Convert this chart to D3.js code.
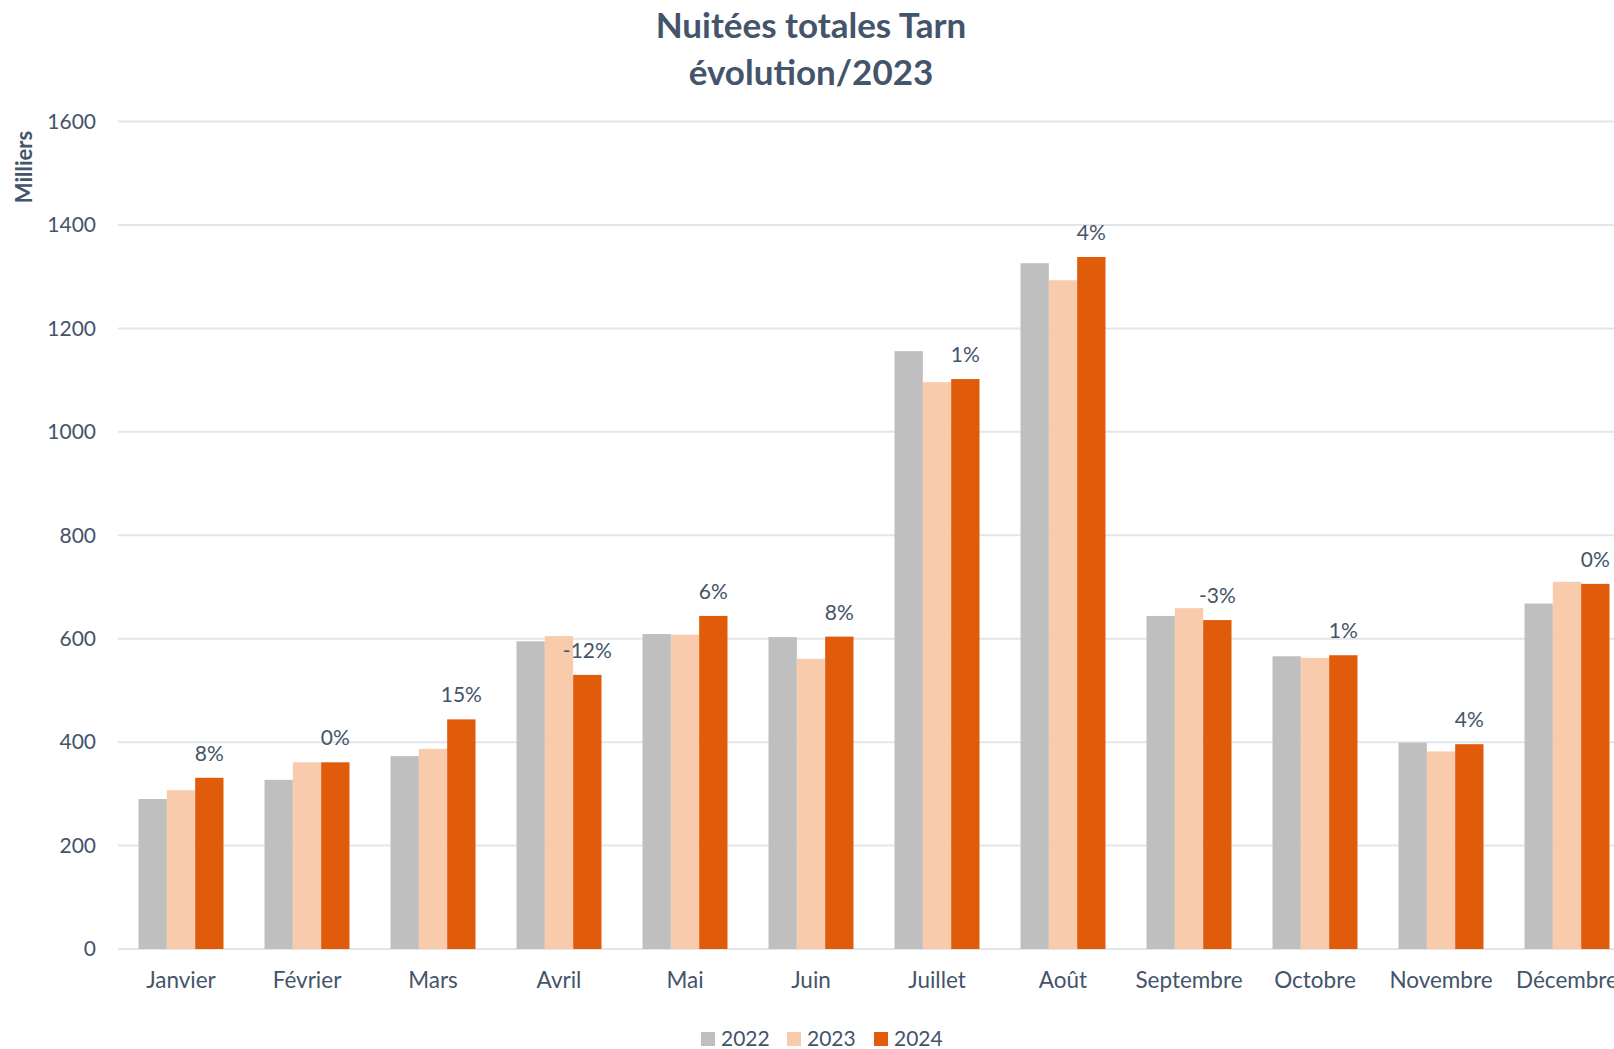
<!DOCTYPE html>
<html>
<head>
<meta charset="utf-8">
<script src="https://cdn.jsdelivr.net/npm/d3@7"></script>
<style>
  body { margin: 0; background: #fff; }
  svg { display: block; font-family: Lato, "Noto Sans", sans-serif; }
</style>
</head>
<body>
<svg></svg>
<script>
var width = 1614,
    height = 1049;

// data
var months = ["Janvier", "Février", "Mars", "Avril", "Mai", "Juin", "Juillet", "Août", "Septembre", "Octobre", "Novembre", "Décembre"];
var years = ["2022", "2023", "2024"];
var v2022 = [290, 327, 373, 595, 609, 603, 1156, 1326, 644, 566, 399, 668];
var v2023 = [307, 361, 387, 605, 608, 561, 1096, 1293, 659, 563, 382, 710];
var v2024 = [331, 361, 444, 530, 644, 604, 1102, 1338, 636, 568, 396, 706];
var evolution = ["8%", "0%", "15%", "-12%", "6%", "8%", "1%", "4%", "-3%", "1%", "4%", "0%"];
var yTicks = [0, 200, 400, 600, 800, 1000, 1200, 1400, 1600];

var colors = ["#BFBFBF", "#F8CBAD", "#E05C0B"];
var textColor = "#44546A";

var margin = {left: 118, top: 121.5, bottom: 100};
var plotRight = 1630; // plot runs past the picture edge, as in the original
var baseY = 949;

var svg = d3.select("svg")
    .attr("width", width)
    .attr("height", height);

var x = d3.scaleBand()
    .domain(months)
    .range([margin.left, plotRight]);

var xInner = d3.scaleBand()
    .domain(years)
    .range([0, 85]);

var y = d3.scaleLinear()
    .domain([0, 1600])
    .range([baseY, margin.top]);

// gridlines
svg.append("g")
    .selectAll("line")
    .data(yTicks)
    .enter().append("line")
    .attr("x1", margin.left)
    .attr("x2", plotRight)
    .attr("y1", function (d) { return y(d); })
    .attr("y2", function (d) { return y(d); })
    .style("stroke", "#E2E5EA")
    .style("stroke-width", "2px");

// y tick labels
svg.append("g")
    .selectAll("text")
    .data(yTicks)
    .enter().append("text")
    .attr("x", 96)
    .attr("y", function (d) { return y(d); })
    .attr("dy", "0.35em")
    .attr("text-anchor", "end")
    .style("font-size", "21px")
    .style("fill", textColor)
    .text(function (d) { return d; });

// bars
var series = [v2022, v2023, v2024];
var rows = [];
months.forEach(function (m, i) {
    years.forEach(function (yr, j) {
        rows.push({month: m, year: yr, value: series[j][i], k: j});
    });
});

var groupOffset = (x.bandwidth() - 85) / 2;

svg.append("g")
    .selectAll("rect")
    .data(rows)
    .enter().append("rect")
    .attr("x", function (d) { return x(d.month) + groupOffset + xInner(d.year); })
    .attr("y", function (d) { return y(d.value); })
    .attr("width", xInner.bandwidth())
    .attr("height", function (d) { return baseY - y(d.value); })
    .style("fill", function (d) { return colors[d.k]; });

// evolution labels above 2024 bar
svg.append("g")
    .selectAll("text")
    .data(months)
    .enter().append("text")
    .attr("x", function (d) { return x(d) + groupOffset + xInner("2024") + xInner.bandwidth() / 2; })
    .attr("y", function (d, i) { return y(v2024[i]) - 17; })
    .attr("text-anchor", "middle")
    .style("font-size", "21px")
    .style("fill", textColor)
    .text(function (d, i) { return evolution[i]; });

// x labels
svg.append("g")
    .selectAll("text")
    .data(months)
    .enter().append("text")
    .attr("x", function (d) { return x(d) + x.bandwidth() / 2; })
    .attr("y", 988)
    .attr("text-anchor", "middle")
    .style("font-size", "22.5px")
    .style("fill", textColor)
    .text(function (d) { return d; });

// title
var title = svg.append("text")
    .attr("text-anchor", "middle")
    .style("font-size", "35px")
    .style("font-weight", "bold")
    .style("fill", textColor);
title.append("tspan").attr("x", 811).attr("y", 38).text("Nuitées totales Tarn");
title.append("tspan").attr("x", 811).attr("y", 85).text("évolution/2023");

// y axis title
svg.append("text")
    .attr("transform", "translate(32,167) rotate(-90)")
    .attr("text-anchor", "middle")
    .style("font-size", "22px")
    .style("font-weight", "bold")
    .style("fill", textColor)
    .text("Milliers");

// legend
var legendX = [701, 787, 874];
var legend = svg.append("g")
    .selectAll("g")
    .data(years)
    .enter().append("g")
    .attr("transform", function (d, i) { return "translate(" + legendX[i] + ",1039)"; });

legend.append("rect")
    .attr("x", 0)
    .attr("y", -7)
    .attr("width", 14)
    .attr("height", 14)
    .style("fill", function (d, i) { return colors[i]; });

legend.append("text")
    .attr("x", 20)
    .attr("y", 0)
    .attr("dy", "0.35em")
    .style("font-size", "21px")
    .style("fill", textColor)
    .text(function (d) { return d; });
</script>
</body>
</html>
